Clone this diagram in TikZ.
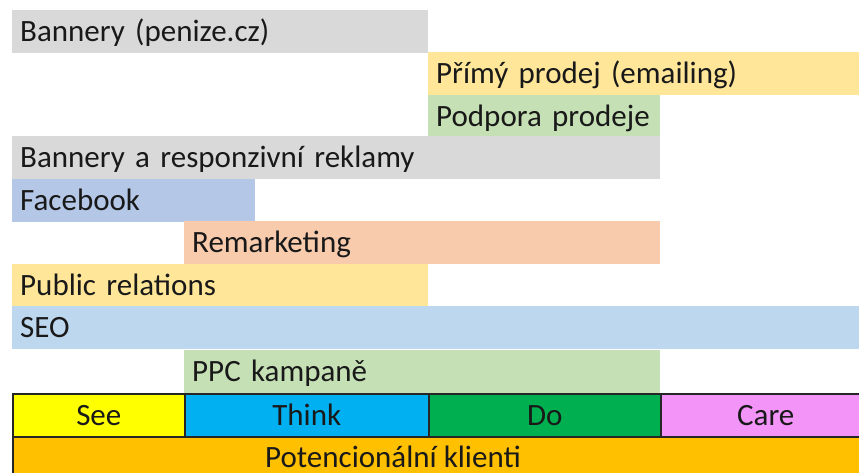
\documentclass[tikz,border=0pt]{standalone}
\usepackage{fontspec}
\usepackage{xcolor}
\usepackage{tikz}
\setmainfont{Carlito}
\definecolor{barGray}{HTML}{D9D9D9}
\definecolor{barYellow}{HTML}{FFE699}
\definecolor{barGreen}{HTML}{C5E0B4}
\definecolor{barBlue}{HTML}{B4C7E7}
\definecolor{barSalmon}{HTML}{F8CBAD}
\definecolor{barSky}{HTML}{BDD7EE}
\definecolor{seeYellow}{HTML}{FFFF00}
\definecolor{thinkBlue}{HTML}{00B0F0}
\definecolor{doGreen}{HTML}{00B050}
\definecolor{careViolet}{HTML}{F394F9}
\definecolor{klientiOrange}{HTML}{FFC000}
\tikzset{
  bar/.style={anchor=north west, inner xsep=8pt, inner ysep=0pt, minimum height=43pt,
    text height=20pt, text depth=0pt, align=left, text=black!90, font=\fontsize{31}{31}\selectfont},
  stage/.style={anchor=north west, draw=black!85, line width=1.6pt, inner sep=0pt, minimum height=43pt,
    text height=20pt, text depth=0pt, text=black!90, font=\fontsize{31}{31}\selectfont}
}

\begin{document}
\begin{tikzpicture}[x=1pt, y=-1pt]
\useasboundingbox (0,0) rectangle (859,472);
\clip (0,0) rectangle (859,472);
% marketing channels
\node[bar, fill=barGray, text width=400pt] (bannery) at (12,10) {Bannery (penize.cz)};
\node[bar, fill=barYellow, text width=415pt] (primy) at (428,52) {Přímý prodej (emailing)};
\node[bar, fill=barGreen, text width=216pt] (podpora) at (428,95) {Podpora prodeje};
\node[bar, fill=barGray, text width=632pt] (responzivni) at (12,136) {Bannery a responzivní reklamy};
\node[bar, fill=barBlue, text width=227pt] (facebook) at (12,179) {Facebook};
\node[bar, fill=barSalmon, text width=460pt] (remarketing) at (184,221) {Remarketing};
\node[bar, fill=barYellow, text width=400pt] (pr) at (12,264) {Public relations};
\node[bar, fill=barSky, text width=831pt] (seo) at (12,306) {SEO};
\node[bar, fill=barGreen, text width=460pt] (ppc) at (184,350) {PPC kampaně};
% customers and stages
\node[stage, fill=klientiOrange, minimum width=858pt] (klienti) at (12,436) {};
\node[font=\fontsize{31}{31}\selectfont, text=black!90, text height=20pt, text depth=0pt, inner sep=0pt] (klientitext) at (393,457) {Potencionální klienti};
\node[stage, fill=seeYellow, minimum width=172pt] (see) at (12,393) {See};
\node[stage, fill=thinkBlue, minimum width=244pt] (think) at (184,393) {Think};
\node[stage, fill=doGreen, minimum width=232pt] (do) at (428,393) {Do};
\node[stage, fill=careViolet, minimum width=210pt] (care) at (660,393) {Care};
\end{tikzpicture}
\end{document}
